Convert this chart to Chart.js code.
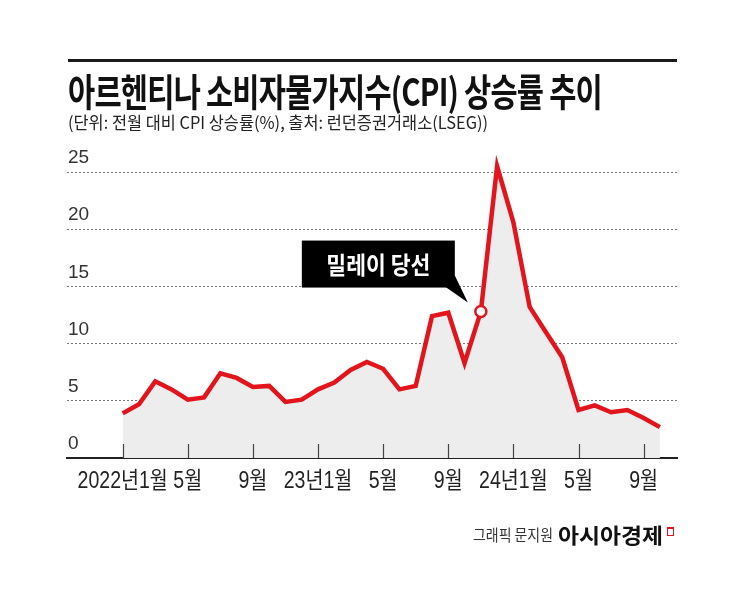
<!DOCTYPE html>
<html>
<head>
<meta charset="utf-8">
<script src="https://cdn.jsdelivr.net/npm/chart.js@4.4.1/dist/chart.umd.min.js"></script>
<style>
  html, body { margin: 0; padding: 0; background: #fff; }
  body { width: 745px; height: 596px; position: relative; overflow: hidden; font-family: "Noto Sans CJK KR", sans-serif; }
  #c { position: absolute; left: 0; top: 0; }
  .t { position: absolute; white-space: nowrap; transform-origin: left center; line-height: 1; }
  #topline { position: absolute; left: 68px; top: 59px; width: 609px; height: 2.5px; background: #1a1a1a; }
  #title { left: 68px; top: 71px; font-size: 38px; font-weight: 700; color: #111; letter-spacing: -1px; }
  #subtitle { left: 68px; top: 113px; font-size: 17px; font-weight: 400; color: #222; }
  #credit { left: 473px; top: 526px; font-size: 16px; color: #333; }
  #brand { left: 558px; top: 524px; font-size: 21px; font-weight: 700; color: #111; }
  #icon { position: absolute; left: 667px; top: 527px; width: 5px; height: 6px; border: 1.5px solid #e2141c; border-top-width: 2.5px; }
</style>
</head>
<body>
<canvas id="c" width="745" height="596"></canvas>
<div id="topline"></div>
<div class="t" id="title" data-w="534">아르헨티나 소비자물가지수(CPI) 상승률 추이</div>
<div class="t" id="subtitle" data-w="420">(단위: 전월 대비 CPI 상승률(%), 출처: 런던증권거래소(LSEG))</div>
<div class="t" id="credit" data-w="80">그래픽 문지원</div>
<div class="t" id="brand" data-w="105">아시아경제</div>
<div id="icon"></div>
<script>
// ---- data ----
const months = ['2022-01','2022-02','2022-03','2022-04','2022-05','2022-06','2022-07','2022-08','2022-09','2022-10','2022-11','2022-12',
                '2023-01','2023-02','2023-03','2023-04','2023-05','2023-06','2023-07','2023-08','2023-09','2023-10','2023-11','2023-12',
                '2024-01','2024-02','2024-03','2024-04','2024-05','2024-06','2024-07','2024-08','2024-09','2024-10'];
const cpi = [3.9, 4.7, 6.7, 6.0, 5.1, 5.3, 7.4, 7.0, 6.2, 6.3, 4.9, 5.1,
             6.0, 6.6, 7.7, 8.4, 7.8, 6.0, 6.3, 12.4, 12.7, 8.3, 12.8, 25.5,
             20.6, 13.2, 11.0, 8.8, 4.2, 4.6, 4.0, 4.2, 3.5, 2.7];
const xTickMonths = ['2022-01','2022-05','2022-09','2023-01','2023-05','2023-09','2024-01','2024-05','2024-09'];
const xTickLabels = ['2022년1월','5월','9월','23년1월','5월','9월','24년1월','5월','9월'];
const yTicks = [0, 5, 10, 15, 20, 25];
const eventMonth = '2023-11';
const eventLabel = '밀레이 당선';

// fit HTML texts to measured widths
document.querySelectorAll('.t').forEach(el => {
  const w = el.getBoundingClientRect().width;
  const target = +el.dataset.w;
  el.style.transform = 'scaleX(' + (target / w) + ')';
});

const RED = '#e2141c';
const eventIdx = months.indexOf(eventMonth);
const tickIdx = xTickMonths.map(m => months.indexOf(m));

const decor = {
  id: 'decor',
  afterDatasetsDraw(chart) {
    const ctx = chart.ctx, xs = chart.scales.x, ys = chart.scales.y;
    const bottom = chart.chartArea.bottom;
    ctx.save();
    ctx.strokeStyle = '#444';
    ctx.lineWidth = 1.2;
    tickIdx.forEach(i => {
      const x = Math.round(xs.getPixelForValue(i)) + 0.5;
      ctx.beginPath(); ctx.moveTo(x, bottom - 14); ctx.lineTo(x, bottom); ctx.stroke();
    });
    // x tick labels (condensed)
    ctx.font = '23px "Liberation Sans", "Noto Sans CJK KR"';
    ctx.fillStyle = '#222';
    ctx.textBaseline = 'middle';
    ctx.textAlign = 'center';
    tickIdx.forEach((i, k) => {
      ctx.save();
      ctx.translate(xs.getPixelForValue(i), bottom + 24);
      ctx.scale(0.85, 1);
      ctx.fillText(xTickLabels[k], 0, 0);
      ctx.restore();
    });
    // callout
    const px = xs.getPixelForValue(eventIdx), py = ys.getPixelForValue(cpi[eventIdx]);
    const bx0 = px - 179, bx1 = px - 26, by0 = py - 71, by1 = py - 24;
    ctx.fillStyle = '#000';
    ctx.fillRect(bx0, by0, bx1 - bx0, by1 - by0);
    ctx.beginPath();
    ctx.moveTo(bx1 - 10, by1 - 1);
    ctx.lineTo(bx1, by1 - 12);
    ctx.lineTo(px - 13, py - 9);
    ctx.closePath(); ctx.fill();
    ctx.font = '700 24px "Noto Sans CJK KR"';
    ctx.fillStyle = '#fff';
    const tw = ctx.measureText(eventLabel).width;
    const sx = 104 / tw;
    ctx.translate((bx0 + bx1) / 2, (by0 + by1) / 2 + 1);
    ctx.scale(sx, 1);
    ctx.fillText(eventLabel, 0, 0);
    ctx.restore();
  }
};

new Chart(document.getElementById('c'), {
  type: 'line',
  data: {
    datasets: [{
      data: cpi.map((v, i) => ({ x: i, y: v })),
      borderColor: RED,
      borderWidth: 4.5,
      borderJoinStyle: 'miter',
      fill: 'origin',
      backgroundColor: '#ededed',
      tension: 0,
      clip: false,
      pointRadius: ctx => ctx.dataIndex === eventIdx ? 5.5 : 0,
      pointBackgroundColor: '#fff',
      pointBorderColor: RED,
      pointBorderWidth: 2.5
    }]
  },
  options: {
    responsive: false,
    animation: false,
    devicePixelRatio: 1,
    layout: { padding: { left: 67, right: 68, top: 172, bottom: 98 } },
    plugins: { legend: { display: false }, tooltip: { enabled: false } },
    scales: {
      x: {
        type: 'linear',
        min: -3.42,
        max: 34.05,
        grid: { display: false, drawTicks: false },
        border: { display: true, color: '#222', width: 2 },
        afterBuildTicks: s => { s.ticks = tickIdx.map(v => ({ value: v })); },
        afterFit: s => { s.height = 40; },
        ticks: { display: false }
      },
      y: {
        min: 0, max: 25,
        afterBuildTicks: s => { s.ticks = yTicks.map(v => ({ value: v })); },
        afterFit: s => { s.width = 0; },
        grid: {
          drawTicks: false,
          color: c => c.tick && c.tick.value === 0 ? 'rgba(0,0,0,0)' : '#777',
          lineWidth: 1
        },
        border: { display: false, dash: [2, 2] },
        ticks: {
          mirror: true, padding: 1, labelOffset: -14,
          color: '#333',
          font: { family: '"Liberation Sans", sans-serif', size: 19 }
        }
      }
    }
  },
  plugins: [decor]
});
</script>
</body>
</html>
